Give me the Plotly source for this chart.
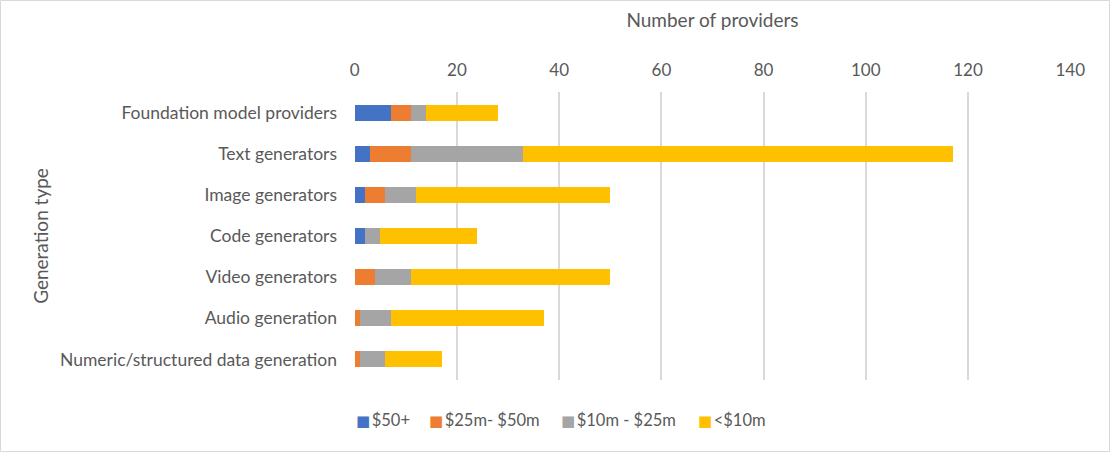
import plotly.graph_objects as go

categories = [
    "Foundation model providers",
    "Text generators",
    "Image generators",
    "Code generators",
    "Video generators",
    "Audio generation",
    "Numeric/structured data generation",
]

# providers by funding band
over_50m = [7, 3, 2, 2, 0, 0, 0]
from_25m_to_50m = [4, 8, 4, 0, 4, 1, 1]
from_10m_to_25m = [3, 22, 6, 3, 7, 6, 5]
under_10m = [14, 84, 38, 19, 39, 30, 11]

series_names = ["$50+", "$25m- $50m", "$10m - $25m", "<$10m"]
series_values = [over_50m, from_25m_to_50m, from_10m_to_25m, under_10m]
colors = ["#4472C4", "#ED7D31", "#A5A5A5", "#FFC000"]

x_ticks = [0, 20, 40, 60, 80, 100, 120, 140]

font_name = "Lato"
text_col = "#595959"

fig = go.Figure()
for name, vals, col in zip(series_names, series_values, colors):
    fig.add_trace(go.Bar(y=categories, x=vals, name=name, orientation="h",
                         marker=dict(color=col, line=dict(width=0)),
                         showlegend=False))

# legend drawn as annotations so the key spacing matches the Excel layout
legend_x = [0.0, 0.1018, 0.2859, 0.4770]
for name, col, lx in zip(series_names, colors, legend_x):
    fig.add_annotation(
        xref="paper", yref="paper", x=lx, y=-0.14, xanchor="left", yanchor="middle",
        showarrow=False,
        text='<span style="color:%s;font-size:15px;font-family:DejaVu Sans">■</span>'
             '<span style="font-size:6px"> </span>%s' % (col, name),
        font=dict(size=16.5, color=text_col, family=font_name))

fig.update_layout(
    barmode="stack",
    bargap=0.61,
    width=1110, height=452,
    margin=dict(l=354, r=39, t=92, b=72),
    paper_bgcolor="white", plot_bgcolor="white",
    font=dict(family=font_name, size=17, color=text_col),
    xaxis=dict(side="top", range=[-0.15, 140.15], tickvals=x_ticks,
               showgrid=True, gridcolor="#D9D9D9", gridwidth=2,
               zeroline=False, showline=False, ticks="",
               ticklabelstandoff=12,
               title=dict(text="Number of providers", standoff=25,
                          font=dict(size=19, color=text_col)),
               tickfont=dict(size=17, color=text_col)),
    yaxis=dict(autorange="reversed", showgrid=False, zeroline=False,
               showline=False, ticks="",
               ticklabelstandoff=16,
               title=dict(text="Generation type", standoff=6,
                          font=dict(size=19, color=text_col)),
               tickfont=dict(size=17.5, color=text_col)),
    shapes=[dict(type="rect", xref="paper", yref="paper",
                 x0=-353.5 / 717, x1=1 + 38.5 / 717, y0=-71.5 / 288, y1=1 + 91.5 / 288,
                 line=dict(color="#D9D9D9", width=1))],
)

fig.write_html("out.html", config={"displayModeBar": False},
               post_script="document.body.style.margin='0';")
